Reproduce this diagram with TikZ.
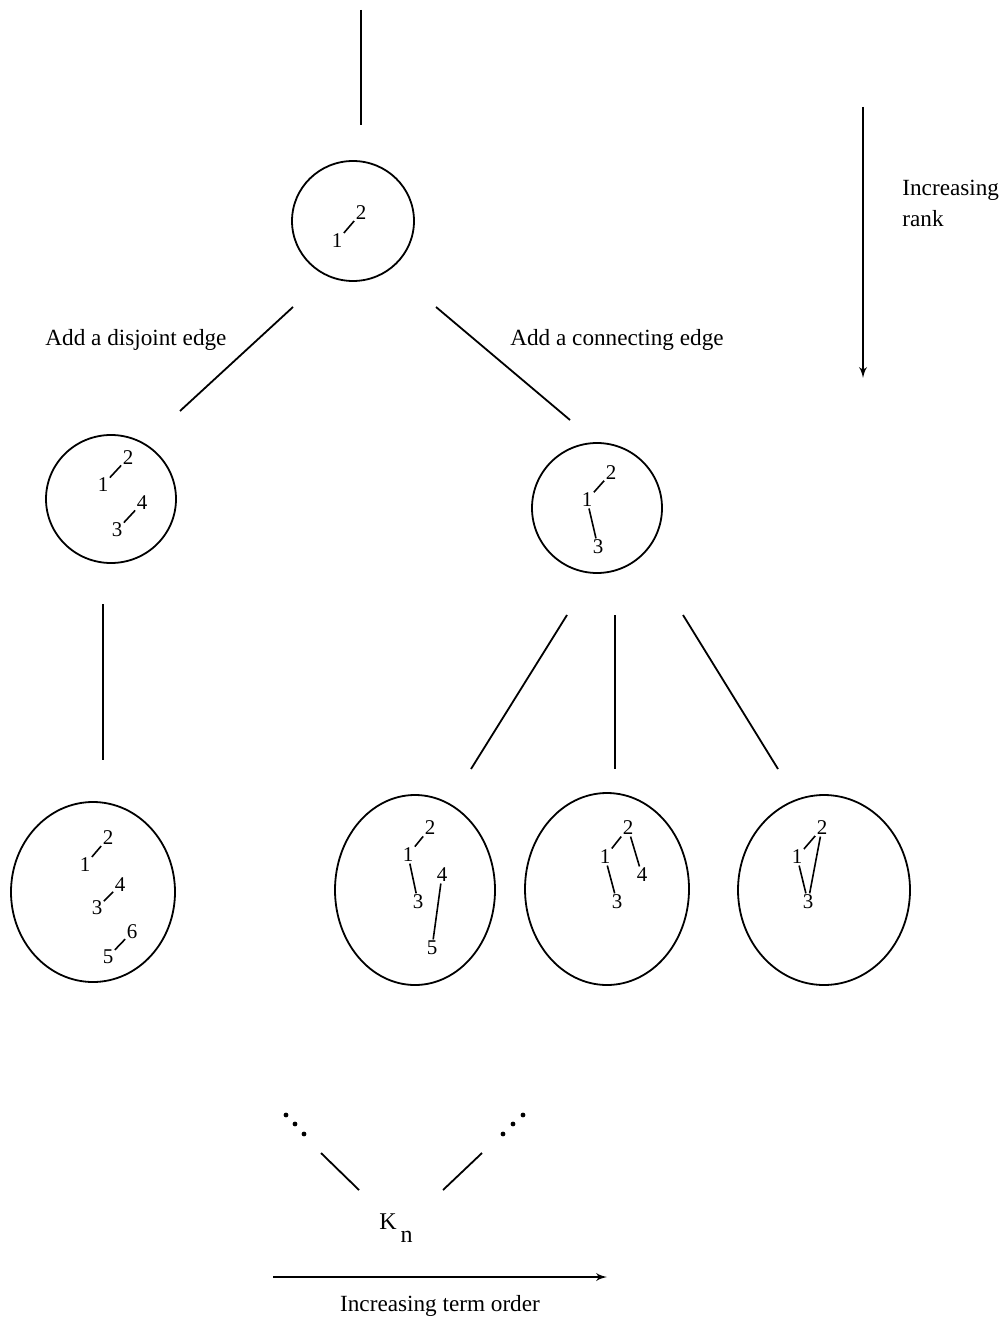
\documentclass[tikz,border=0pt]{standalone}
\usepackage{fontspec}
\setmainfont{Liberation Serif}
\usepackage{tikz}
\usetikzlibrary{shapes,arrows}

\begin{document}
\begin{tikzpicture}[x=0.5pt,y=-0.5pt]
	\tikzstyle{common} = [line width=0.9pt]
	\tikzstyle{graph} = [ellipse, draw, common, inner sep=0]
	\tikzstyle{vertex} = [inner sep=0.6pt, font=\fontsize{10.5}{12}\selectfont]
	\tikzstyle{edge} = [draw, line width=0.8pt]
	\tikzstyle{line} = [draw, common]
	\tikzstyle{label} = [inner sep=0, font=\fontsize{11.6}{14}\selectfont]
	\tikzstyle{dot} = [circle, fill, inner sep=0, minimum size=2.4pt]
	\useasboundingbox (0,0) rectangle (1002,1325);

	% the graphs, one per rank
	\node[graph, minimum width=61pt, minimum height=60pt] (g1) at (353,221) {};
	\node[graph, minimum width=65pt, minimum height=64pt] (g2a) at (111,499) {};
	\node[graph, minimum width=65pt, minimum height=65pt] (g2b) at (597,508) {};
	\node[graph, minimum width=82pt, minimum height=90pt] (g3a) at (93,892) {};
	\node[graph, minimum width=80pt, minimum height=95pt] (g3b) at (415,890) {};
	\node[graph, minimum width=82pt, minimum height=96pt] (g3c) at (607,889) {};
	\node[graph, minimum width=86pt, minimum height=95pt] (g3d) at (824,890) {};

	% vertices
	\node[vertex] (a1) at (337,241) {1};
	\node[vertex] (a2) at (361,213) {2};

	\node[vertex] (b1) at (103,485) {1};
	\node[vertex] (b2) at (128,458) {2};
	\node[vertex] (b3) at (117,530) {3};
	\node[vertex] (b4) at (142,503) {4};

	\node[vertex] (c1) at (587,500) {1};
	\node[vertex] (c2) at (611,473) {2};
	\node[vertex] (c3) at (598,547) {3};

	\node[vertex] (d1) at (85,865) {1};
	\node[vertex] (d2) at (108,838) {2};
	\node[vertex] (d3) at (97,908) {3};
	\node[vertex] (d4) at (120,885) {4};
	\node[vertex] (d5) at (108,957) {5};
	\node[vertex] (d6) at (132,932) {6};

	\node[vertex] (e1) at (408,855) {1};
	\node[vertex] (e2) at (430,828) {2};
	\node[vertex] (e3) at (418,902) {3};
	\node[vertex] (e4) at (442,875) {4};
	\node[vertex] (e5) at (432,948) {5};

	\node[vertex] (f1) at (605,857) {1};
	\node[vertex] (f2) at (628,828) {2};
	\node[vertex] (f3) at (617,902) {3};
	\node[vertex] (f4) at (642,875) {4};

	\node[vertex] (h1) at (797,857) {1};
	\node[vertex] (h2) at (822,828) {2};
	\node[vertex] (h3) at (808,902) {3};

	\draw[edge] (a1) -- (a2);
	\draw[edge] (b1) -- (b2);
	\draw[edge] (b3) -- (b4);
	\draw[edge] (c1) -- (c2);
	\draw[edge] (c1) -- (c3);
	\draw[edge] (d1) -- (d2);
	\draw[edge] (d3) -- (d4);
	\draw[edge] (d5) -- (d6);
	\draw[edge] (e1) -- (e2);
	\draw[edge] (e1) -- (e3);
	\draw[edge] (e4) -- (e5);
	\draw[edge] (f1) -- (f2);
	\draw[edge] (f1) -- (f3);
	\draw[edge] (f2) -- (f4);
	\draw[edge] (h1) -- (h2);
	\draw[edge] (h1) -- (h3);
	\draw[edge] (h2) -- (h3);

	% ends of the connectors
	\coordinate (t0) at (361,10);
	\coordinate (t1) at (361,125);
	\coordinate (l0) at (293,307);
	\coordinate (l1) at (180,411);
	\coordinate (r0) at (436,307);
	\coordinate (r1) at (570,420);
	\coordinate (m0) at (103,604);
	\coordinate (m1) at (103,760);
	\coordinate (p0) at (567,615);
	\coordinate (p1) at (471,769);
	\coordinate (q0) at (615,615);
	\coordinate (q1) at (615,769);
	\coordinate (s0) at (683,615);
	\coordinate (s1) at (778,769);
	\coordinate (k0) at (321,1153);
	\coordinate (k1) at (359,1190);
	\coordinate (k2) at (443,1190);
	\coordinate (k3) at (482,1153);

	\draw[line] (t0) -- (t1);
	\draw[line] (l0) -- (l1);
	\draw[line] (r0) -- (r1);
	\draw[line] (m0) -- (m1);
	\draw[line] (p0) -- (p1);
	\draw[line] (q0) -- (q1);
	\draw[line] (s0) -- (s1);
	\draw[line] (k0) -- (k1);
	\draw[line] (k2) -- (k3);

	\node[label] (disjoint) at (136,340) {Add a disjoint edge};
	\node[label] (connecting) at (617,340) {Add a connecting edge};

	% the top of the order
	\node[dot] (x1) at (286,1115) {};
	\node[dot] (x2) at (295,1124) {};
	\node[dot] (x3) at (304,1134) {};
	\node[dot] (y1) at (503,1134) {};
	\node[dot] (y2) at (513,1124) {};
	\node[dot] (y3) at (523,1115) {};
	\node[label, font=\fontsize{12}{14}\selectfont] (kn) at (396,1228) {K\raisebox{-1.2ex}{\,n}};

	% the two axes
	\coordinate (rk0) at (863,107);
	\coordinate (rk1) at (863,378);
	\draw[line, -latex'] (rk0) -- (rk1);
	\node[label, anchor=west] (inc) at (902,190) {Increasing};
	\node[label, anchor=west] (rank) at (902,219) {rank};

	\coordinate (to0) at (273,1277);
	\coordinate (to1) at (607,1277);
	\draw[line, -latex'] (to0) -- (to1);
	\node[label] (term) at (440,1306) {Increasing term order};
\end{tikzpicture}
\end{document}
